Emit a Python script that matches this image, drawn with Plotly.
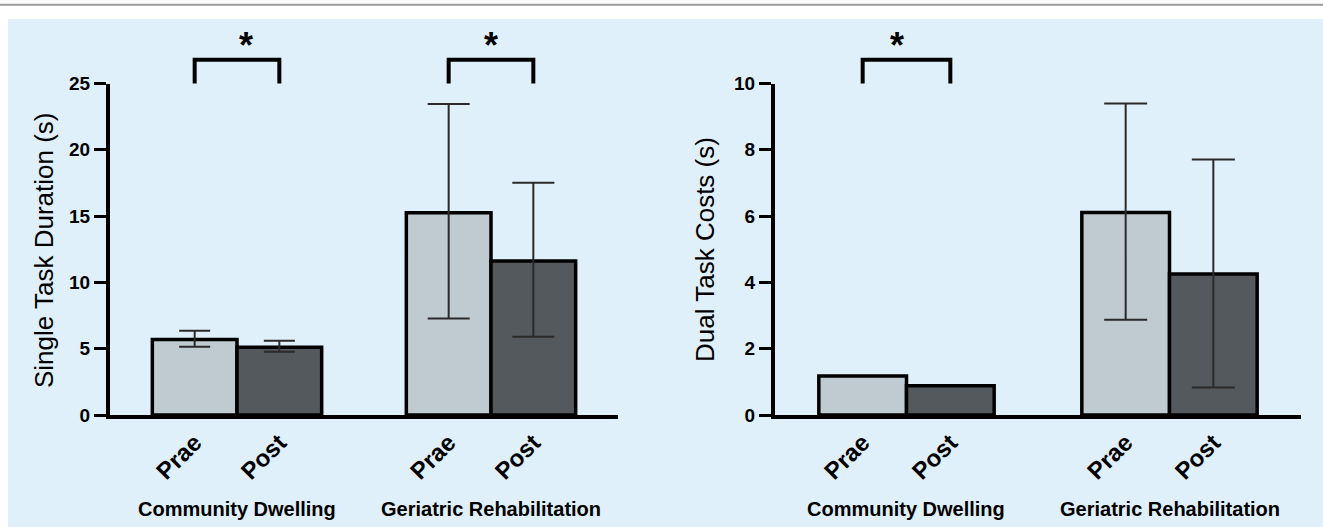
import plotly.graph_objects as go

# ---------------- data ----------------
groups = ["Community Dwelling", "Geriatric Rehabilitation"]
phases = ["Prae", "Post"]

# Single task duration (s): means and error bars (+ / -)
st_cd_mean = [5.70, 5.10]
st_cd_err_plus = [0.66, 0.50]
st_cd_err_minus = [0.56, 0.33]
st_ger_mean = [15.26, 11.62]
st_ger_err_plus = [8.20, 5.90]
st_ger_err_minus = [7.98, 5.72]

# Dual task costs (s)
dt_cd_mean = [1.18, 0.88]
dt_ger_mean = [6.11, 4.25]
dt_ger_err_plus = [3.29, 3.46]
dt_ger_err_minus = [3.24, 3.42]

st_ticks = [0, 5, 10, 15, 20, 25]
dt_ticks = [0, 2, 4, 6, 8, 10]

# positions on the numeric x axis
cd_x = [0, 1]
ger_x = [3, 4]

# ---------------- style ----------------
W, H = 1323, 527
LIGHT = "#BFCBD1"
DARK = "#54595D"
BG = "#E0F0FA"
FONT = "Liberation Sans, Arial, sans-serif"

xdom1 = [110 / W, 618 / W]
xdom2 = [775 / W, 1301 / W]
ydom = [1 - 415 / H, 1 - 83.5 / H]
XR = [-1, 5]


def xp(x, dom):
    return dom[0] + (x - XR[0]) / (XR[1] - XR[0]) * (dom[1] - dom[0])


def yp(v, top):
    return ydom[0] + v / top * (ydom[1] - ydom[0])


fig = go.Figure()


def add_bars(x, y, xa, ya, ep=None, em=None, capw=0):
    kw = {}
    if ep is not None:
        kw["error_y"] = dict(type="data", symmetric=False, array=ep, arrayminus=em,
                             color="#2a2a2a", thickness=2, width=capw)
    fig.add_trace(go.Bar(
        x=x, y=y, xaxis=xa, yaxis=ya, width=1.0,
        marker=dict(color=[LIGHT, DARK], line=dict(color="black", width=3.5)),
        showlegend=False, hoverinfo="skip", **kw))


add_bars(cd_x, st_cd_mean, "x", "y", st_cd_err_plus, st_cd_err_minus, 15.5)
add_bars(ger_x, st_ger_mean, "x", "y", st_ger_err_plus, st_ger_err_minus, 21)
add_bars(cd_x, dt_cd_mean, "x2", "y2")
add_bars(ger_x, dt_ger_mean, "x2", "y2", dt_ger_err_plus, dt_ger_err_minus, 21.5)

tickfont = dict(family=FONT, size=19, color="black", weight="bold")
xtickfont = dict(family=FONT, size=24, color="black", weight="bold")

common_x = dict(range=XR, tickvals=cd_x + ger_x, ticktext=phases + phases,
                tickangle=-45, ticks="", showline=True, linewidth=4, linecolor="black",
                showgrid=False, zeroline=False, tickfont=xtickfont, automargin=False)
common_y = dict(ticks="outside", ticklen=12, tickwidth=3, tickcolor="black",
                showline=True, linewidth=4, linecolor="black", showgrid=False,
                zeroline=False, tickfont=tickfont, automargin=False)
fig.update_layout(
    width=W, height=H,
    margin=dict(l=0, r=0, t=0, b=0, autoexpand=False),
    paper_bgcolor="white", plot_bgcolor="rgba(0,0,0,0)",
    barmode="overlay",
    xaxis=dict(domain=xdom1, anchor="y", **common_x),
    xaxis2=dict(domain=xdom2, anchor="y2", **common_x),
    yaxis=dict(domain=ydom, anchor="x", range=[0, 25], tickvals=st_ticks, **common_y),
    yaxis2=dict(domain=ydom, anchor="x2", range=[0, 10], tickvals=dt_ticks, **common_y),
)

shapes = []
# light blue panel background and top rule
shapes.append(dict(type="rect", xref="paper", yref="paper", x0=8 / W, x1=1, y0=0, y1=1 - 19 / H,
                   fillcolor=BG, line=dict(width=0), layer="below"))
shapes.append(dict(type="line", xref="paper", yref="paper", x0=0, x1=1, y0=1 - 4.8 / H, y1=1 - 4.8 / H,
                   line=dict(color="#9a9a9a", width=2), layer="below"))

annotations = []


def bracket(xa_dom, x0, x1, ylow, yhigh, ystar, top):
    pts = [(x0, ylow), (x0, yhigh), (x1, yhigh), (x1, ylow)]
    path = "M " + " L ".join(f"{xp(x, xa_dom):.5f},{yp(v, top):.5f}" for x, v in pts)
    shapes.append(dict(type="path", xref="paper", yref="paper", path=path,
                       line=dict(color="black", width=4)))
    annotations.append(dict(xref="paper", yref="paper", x=xp((x0 + x1) / 2, xa_dom), y=yp(ystar, top),
                            text="<b>*</b>", showarrow=False, yanchor="middle",
                            font=dict(family=FONT, size=36, color="black")))


bracket(xdom1, cd_x[0], cd_x[1], 25, 26.8, 27.9, 25)
bracket(xdom1, ger_x[0], ger_x[1], 25, 26.8, 27.9, 25)
bracket(xdom2, cd_x[0], cd_x[1], 10, 10.72, 11.16, 10)

# group labels
for dom in (xdom1, xdom2):
    for gx, name in zip((0.5, 3.5), groups):
        annotations.append(dict(xref="paper", yref="paper", x=xp(gx, dom), y=1 - 509 / H,
                                text=name, showarrow=False, xanchor="center", yanchor="middle",
                                font=dict(family=FONT, size=20, color="black", weight="bold")))

# axis titles
annotations.append(dict(xref="paper", yref="paper", x=44 / W, y=1 - 250 / H, text="Single Task Duration (s)",
                        textangle=-90, showarrow=False, xanchor="center", yanchor="middle",
                        font=dict(family=FONT, size=26, color="black")))
annotations.append(dict(xref="paper", yref="paper", x=705 / W, y=1 - 250 / H, text="Dual Task Costs (s)",
                        textangle=-90, showarrow=False, xanchor="center", yanchor="middle",
                        font=dict(family=FONT, size=26, color="black")))

fig.update_layout(shapes=shapes, annotations=annotations)
fig.write_html("out.html", config={"displayModeBar": False},
               post_script="document.body.style.margin='0px';")
